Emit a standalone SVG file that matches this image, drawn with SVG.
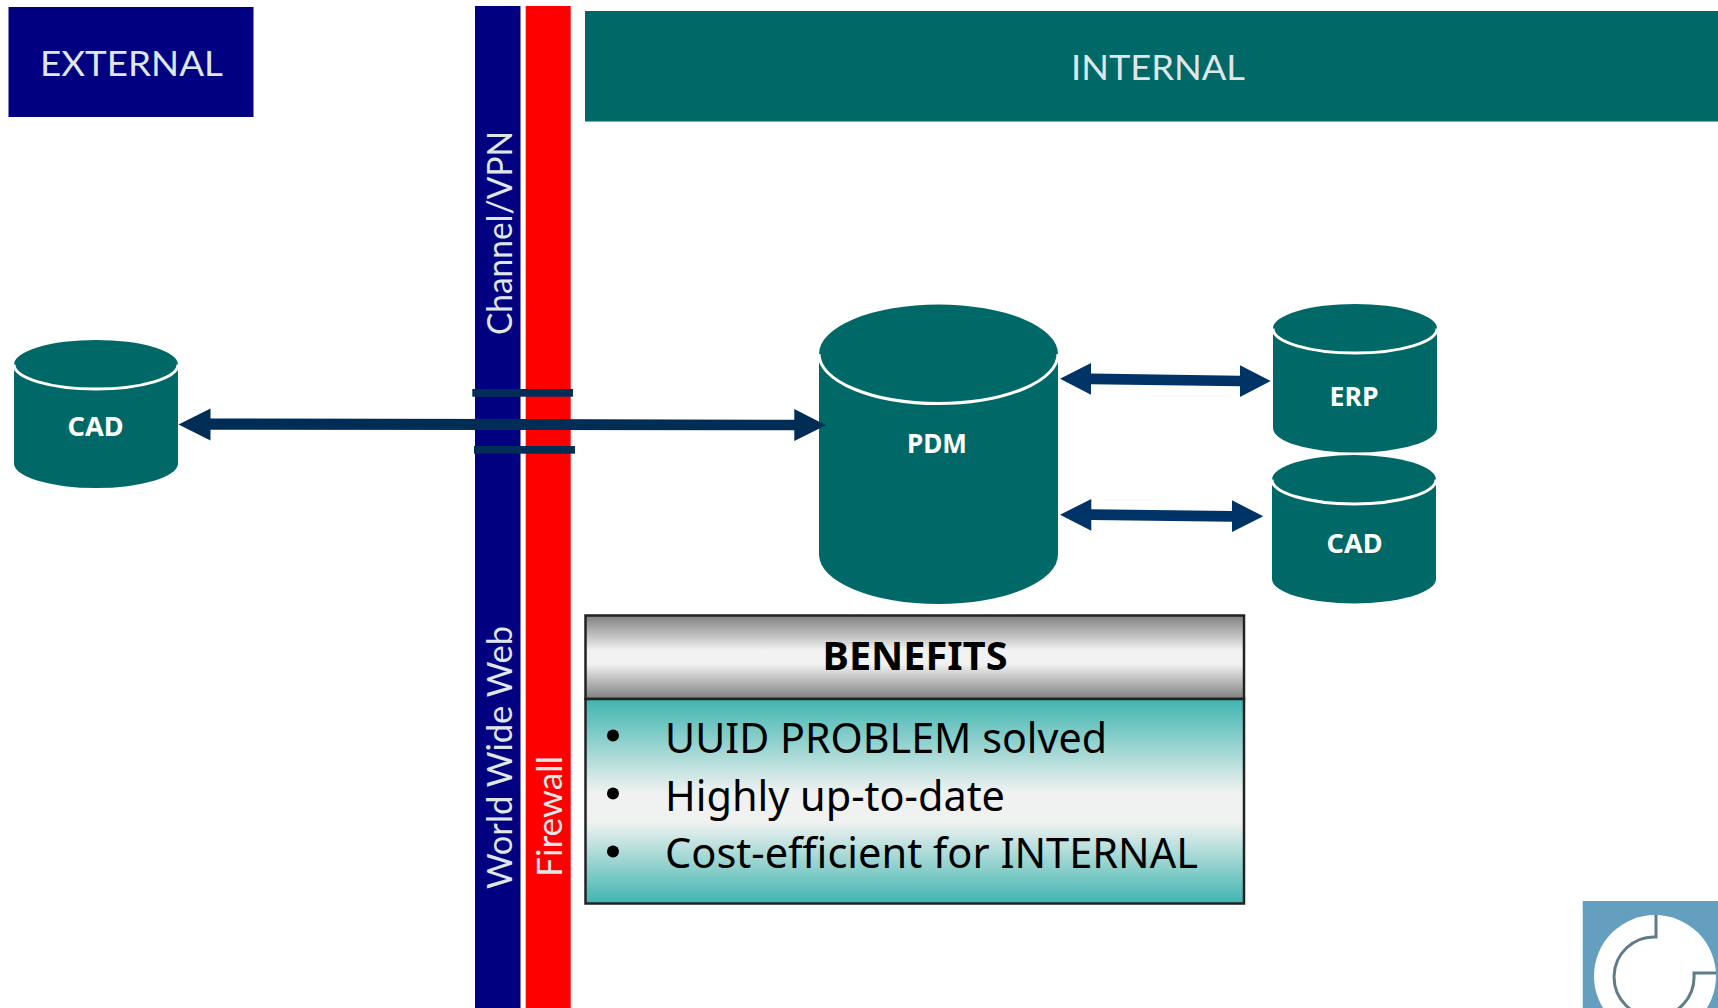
<svg xmlns="http://www.w3.org/2000/svg" width="1718" height="1008" viewBox="0 0 1718 1008">
<style>
.navy{fill:#000080}
.teal{fill:#006866}
.cap{fill:none;stroke:#fff;stroke-width:3}
.band{font-family:"Lato","Liberation Sans",sans-serif;fill:#dfe6e8;font-size:34px}
.cyl{font-family:"Noto Sans","Liberation Sans",sans-serif;font-weight:700;fill:#fff;font-size:27px;text-anchor:middle}
.ben{font-family:"Noto Sans","Liberation Sans",sans-serif;fill:#000;font-size:41px}
.arrow{fill:#003366}
.long{fill:#002d55}
.box{stroke:#222;stroke-width:2.5}
</style>
<defs>
<linearGradient id="grayGrad" x1="0" y1="0" x2="0" y2="1"><stop offset="0" stop-color="#7f7f7f"/><stop offset=".42" stop-color="#f2f2f2"/><stop offset=".58" stop-color="#f2f2f2"/><stop offset="1" stop-color="#7f7f7f"/></linearGradient>
<linearGradient id="tealGrad" x1="0" y1="0" x2="0" y2="1"><stop offset="0" stop-color="#3fb5b0"/><stop offset=".46" stop-color="#f0f2f1"/><stop offset=".6" stop-color="#f0f2f1"/><stop offset="1" stop-color="#3fb5b0"/></linearGradient>
</defs>
<rect width="1718" height="1008" fill="#fff"/>

<g id="external"><rect class="navy" x="8.500" y="7" width="245" height="110"/><text class="band" x="40" y="76" textLength="183" lengthAdjust="spacingAndGlyphs">EXTERNAL</text></g>
<g id="internal"><rect class="teal" x="585" y="11" width="1133" height="110.500"/><text class="band" x="1071" y="80" textLength="174" lengthAdjust="spacingAndGlyphs">INTERNAL</text></g>
<g id="channel"><rect class="navy" x="475" y="6" width="45.500" height="1002"/>
<text class="band" transform="translate(512 335) rotate(-90)" textLength="204" lengthAdjust="spacingAndGlyphs">Channel/VPN</text>
<text class="band" transform="translate(512 889) rotate(-90)" textLength="263" lengthAdjust="spacingAndGlyphs">World Wide Web</text></g>
<g id="firewall"><rect x="525.700" y="6" width="45" height="1002" fill="#f00"/>
<text class="band" transform="translate(562 877) rotate(-90)" textLength="121" lengthAdjust="spacingAndGlyphs">Firewall</text></g>

<g id="cad-external"><path class="teal" d="M14 364.500A82 24.500 0 0 1 178 364.500V463.500A82 24.500 0 0 1 14 463.500Z"/><path class="cap" d="M14 364.500A82 24.500 0 0 0 178 364.500"/><text class="cyl" x="95.500" y="436" textLength="56" lengthAdjust="spacingAndGlyphs">CAD</text></g>
<g id="pdm"><path class="teal" d="M819 354A119.500 49.500 0 0 1 1058 354V554.500A119.500 49.500 0 0 1 819 554.500Z"/><path class="cap" d="M819 354A119.500 49.500 0 0 0 1058 354"/><text class="cyl" x="937" y="452.500" textLength="60" lengthAdjust="spacingAndGlyphs">PDM</text></g>
<g id="erp"><path class="teal" d="M1273 328.500A82 24.500 0 0 1 1437 328.500V428A82 24.500 0 0 1 1273 428Z"/><path class="cap" d="M1273 328.500A82 24.500 0 0 0 1437 328.500"/><text class="cyl" x="1354" y="405.500" textLength="49" lengthAdjust="spacingAndGlyphs">ERP</text></g>
<g id="cad-internal"><path class="teal" d="M1272 479.500A82 24.500 0 0 1 1436 479.500V579A82 24.500 0 0 1 1272 579Z"/><path class="cap" d="M1272 479.500A82 24.500 0 0 0 1436 479.500"/><text class="cyl" x="1354.500" y="552.500" textLength="56" lengthAdjust="spacingAndGlyphs">CAD</text></g>

<g id="connectors">
<rect class="long" x="472.300" y="389" width="100.700" height="7.700"/>
<rect class="long" x="474" y="446" width="101" height="7.700"/>
<polygon class="long" points="178.500,424.500 210.500,408.500 210.500,418.500 794.300,419.700 794.300,409 826,425.300 794.300,441 794.300,430.300 210.500,429.700 210.500,440.500"/>
<polygon class="arrow" points="1060,378.700 1091,363 1091,373.500 1240,375.700 1240,365.300 1270.700,381 1240,397 1240,386.300 1091,384.300 1091,394.700"/>
<polygon class="arrow" points="1060,514.700 1091.300,499 1091.300,509.300 1232,511 1232,500.300 1263.300,516.300 1232,532 1232,521.700 1091.300,520 1091.300,530.700"/>
</g>

<g id="benefits">
<rect class="box" x="585.500" y="615.500" width="658.500" height="83.500" fill="url(#grayGrad)"/>
<rect class="box" x="585.500" y="699" width="658.500" height="204.500" fill="url(#tealGrad)"/>
<text x="915" y="669.500" font-family="Noto Sans, Liberation Sans, sans-serif" font-weight="700" font-size="40" text-anchor="middle" textLength="185" lengthAdjust="spacingAndGlyphs">BENEFITS</text>
<circle cx="613" cy="735.500" r="6"/><circle cx="613" cy="793.500" r="6"/><circle cx="613" cy="851.500" r="6"/>
<text class="ben" x="665" y="752.500" textLength="442" lengthAdjust="spacingAndGlyphs">UUID PROBLEM solved</text>
<text class="ben" x="665" y="810.500" textLength="340" lengthAdjust="spacingAndGlyphs">Highly up-to-date</text>
<text class="ben" x="665" y="868" textLength="533" lengthAdjust="spacingAndGlyphs">Cost-efficient for INTERNAL</text>
</g>

<g id="logo">
<rect x="1582.700" y="901" width="135.300" height="107" fill="#659fbf"/>
<circle cx="1655" cy="976" r="61" fill="#fff"/>
<path d="M1656 915V937A40 40 0 1 0 1694 975V973H1716" fill="none" stroke="#5f7b88" stroke-width="3"/>
</g>
</svg>
